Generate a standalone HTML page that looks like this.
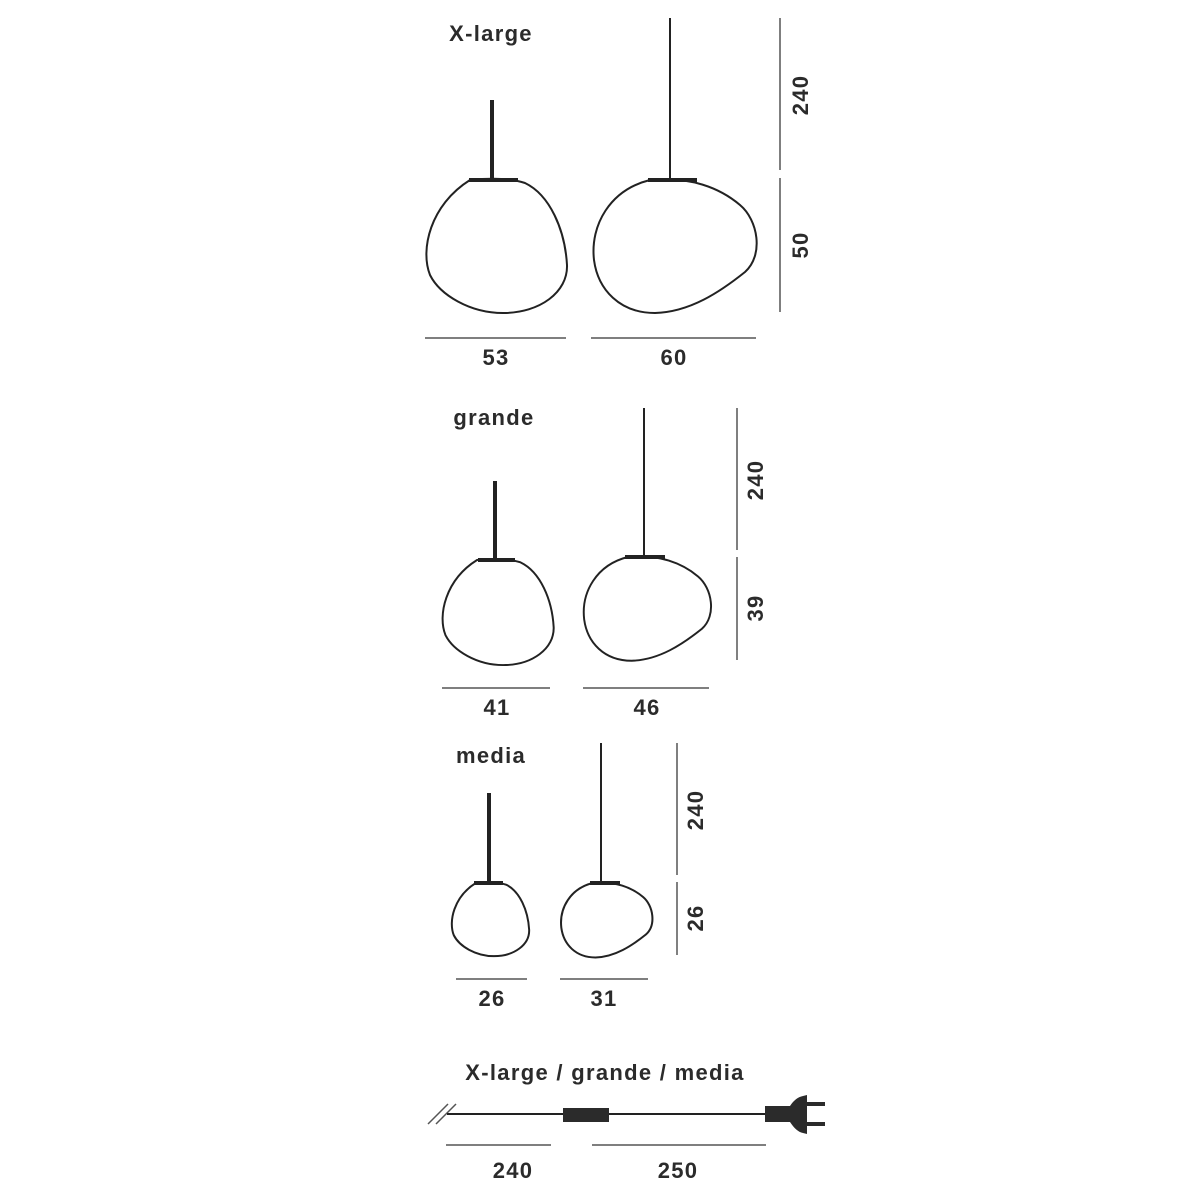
<!DOCTYPE html>
<html><head><style>body{margin:0;background:#fff}svg{display:block}text{font-family:"Liberation Sans",sans-serif;font-size:22px;fill:#2b2b2b;font-weight:bold;text-anchor:middle;letter-spacing:1.3px}</style></head>
<body>
<svg width="1200" height="1200" viewBox="0 0 1200 1200">
<defs>
<path id="bl" d="M470,180 C490,178 510,178 525,183 C550,195 565,230 567,265 C568,292 540,313 503,313 C470,313 440,295 430,275 C420,250 430,205 470,180 Z"/>
<path id="br" d="M650,180 C690,176 720,188 740,205 C758,220 764,255 745,272 C720,292 690,312 655,313 C620,313 598,290 594,260 C590,225 610,190 650,180 Z"/>
</defs>
<g fill="none" stroke="#222" stroke-width="2">
<use href="#bl"/>
<use href="#br"/>
<g transform="translate(496,560) scale(0.79) translate(-494,-180)" stroke-width="2.5"><use href="#bl"/></g>
<g transform="translate(645,557) scale(0.78) translate(-672,-180)" stroke-width="2.5"><use href="#br"/></g>
<g transform="translate(489,883) scale(0.55) translate(-494,-180)" stroke-width="3.6"><use href="#bl"/></g>
<g transform="translate(605,883) scale(0.56) translate(-672,-180)" stroke-width="3.6"><use href="#br"/></g>
</g>
<g stroke="#222" fill="none">
<line x1="492" y1="100" x2="492" y2="180" stroke-width="4"/>
<line x1="469" y1="180" x2="518" y2="180" stroke-width="4"/>
<line x1="670" y1="18" x2="670" y2="180" stroke-width="2"/>
<line x1="648" y1="180" x2="697" y2="180" stroke-width="4"/>
<line x1="495" y1="481" x2="495" y2="560" stroke-width="4"/>
<line x1="478" y1="560" x2="515" y2="560" stroke-width="4"/>
<line x1="644" y1="408" x2="644" y2="557" stroke-width="2"/>
<line x1="625" y1="557" x2="665" y2="557" stroke-width="4"/>
<line x1="489" y1="793" x2="489" y2="883" stroke-width="4"/>
<line x1="474" y1="883" x2="503" y2="883" stroke-width="4"/>
<line x1="601" y1="743" x2="601" y2="883" stroke-width="2"/>
<line x1="590" y1="883" x2="620" y2="883" stroke-width="4"/>
</g>
<g stroke="#555" stroke-width="1.5">
<line x1="780" y1="18" x2="780" y2="170"/><line x1="780" y1="178" x2="780" y2="312"/>
<line x1="425" y1="338" x2="566" y2="338"/><line x1="591" y1="338" x2="756" y2="338"/>
<line x1="737" y1="408" x2="737" y2="550"/><line x1="737" y1="557" x2="737" y2="660"/>
<line x1="442" y1="688" x2="550" y2="688"/><line x1="583" y1="688" x2="709" y2="688"/>
<line x1="677" y1="743" x2="677" y2="875"/><line x1="677" y1="882" x2="677" y2="955"/>
<line x1="456" y1="979" x2="527" y2="979"/><line x1="560" y1="979" x2="648" y2="979"/>
<line x1="446" y1="1145" x2="551" y2="1145"/><line x1="592" y1="1145" x2="766" y2="1145"/>
<line x1="428" y1="1124" x2="448" y2="1104"/><line x1="436" y1="1124" x2="456" y2="1104"/>
</g>
<line x1="447" y1="1114" x2="770" y2="1114" stroke="#222" stroke-width="2"/>
<rect x="563" y="1108" width="46" height="14" fill="#2b2b2b"/>
<path d="M765,1106 L790,1106 C794,1100 798,1097 803,1096 L807,1095 L807,1134 L803,1133 C798,1132 794,1128 790,1122 L765,1122 Z" fill="#2b2b2b"/>
<rect x="805" y="1102" width="20" height="4" fill="#2b2b2b"/>
<rect x="805" y="1122" width="20" height="4" fill="#2b2b2b"/>
<text x="491" y="41">X-large</text>
<text x="494" y="425">grande</text>
<text x="491" y="763">media</text>
<text x="605" y="1080">X-large / grande / media</text>
<text x="496" y="365">53</text><text x="674" y="365">60</text>
<text x="497" y="715">41</text><text x="647" y="715">46</text>
<text x="492" y="1006">26</text><text x="604" y="1006">31</text>
<text x="513" y="1178">240</text><text x="678" y="1178">250</text>
<text transform="translate(808,95) rotate(-90)">240</text>
<text transform="translate(808,245) rotate(-90)">50</text>
<text transform="translate(763,480) rotate(-90)">240</text>
<text transform="translate(763,608) rotate(-90)">39</text>
<text transform="translate(703,810) rotate(-90)">240</text>
<text transform="translate(703,918) rotate(-90)">26</text>
</svg>
</body></html>
